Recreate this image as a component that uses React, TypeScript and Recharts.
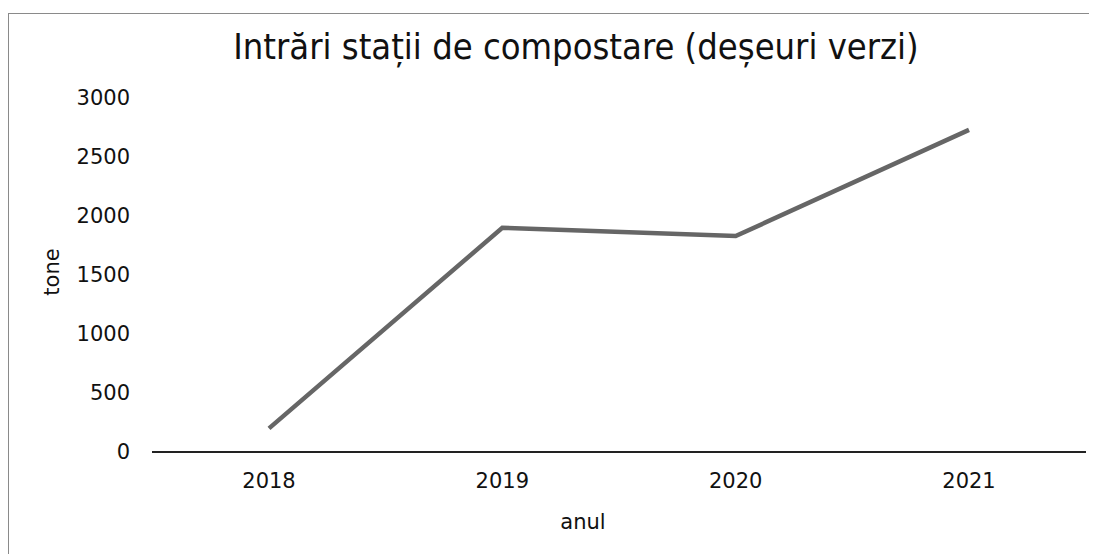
import React from 'react';
import { LineChart, Line, XAxis, YAxis } from 'recharts';

const years = ['2018', '2019', '2020', '2021'];
const tone = [200, 1900, 1830, 2730];
const yTicks = [0, 500, 1000, 1500, 2000, 2500, 3000];

const data = years.map((y, i) => ({ year: y, tone: tone[i] }));

const font = '"DejaVu Sans", Verdana, sans-serif';

export default function App() {
  return (
    <div
      style={{
        marginTop: 5,
        width: 1089,
        height: 541,
        borderLeft: '1px solid #8a8a8a',
        borderTop: '1px solid #8a8a8a',
        position: 'relative',
        fontFamily: font,
        color: '#111',
        background: '#fff',
      }}
    >
      <div
        style={{
          position: 'absolute',
          left: 0,
          top: 12,
          width: 1134,
          textAlign: 'center',
          fontSize: 36,
          lineHeight: 'normal',
          fontFamily: '"DejaVu Sans Condensed", "DejaVu Sans", sans-serif',
          whiteSpace: 'nowrap',
        }}
      >
        Intrări stații de compostare (deșeuri verzi)
      </div>
      <div
        style={{
          position: 'absolute',
          left: 43 - 40,
          top: 258 - 14,
          width: 80,
          height: 28,
          lineHeight: '28px',
          textAlign: 'center',
          fontSize: 21,
          transform: 'rotate(-90deg)',
        }}
      >
        tone
      </div>
      <div
        style={{
          position: 'absolute',
          left: 574 - 40,
          top: 496,
          width: 80,
          textAlign: 'center',
          fontSize: 21,
        }}
      >
        anul
      </div>
      <LineChart
        width={1088}
        height={540}
        data={data}
        margin={{ top: 84, right: 11, bottom: 62, left: 73 }}
      >
        <XAxis
          dataKey="year"
          padding={{ left: 117, right: 117 }}
          axisLine={{ stroke: '#222', strokeWidth: 2 }}
          tickLine={false}
          tickSize={0}
          tickMargin={21}
          height={40}
          tick={{ fill: '#111', fontSize: 21, fontFamily: font }}
        />
        <YAxis
          domain={[0, 3000]}
          ticks={yTicks}
          width={70}
          axisLine={false}
          tickLine={false}
          tickSize={0}
          tickMargin={22}
          tick={{ fill: '#111', fontSize: 21, fontFamily: font }}
        />
        <Line
          type="linear"
          dataKey="tone"
          stroke="#666"
          strokeWidth={4.5}
          dot={false}
          activeDot={false}
          isAnimationActive={false}
        />
      </LineChart>
    </div>
  );
}
